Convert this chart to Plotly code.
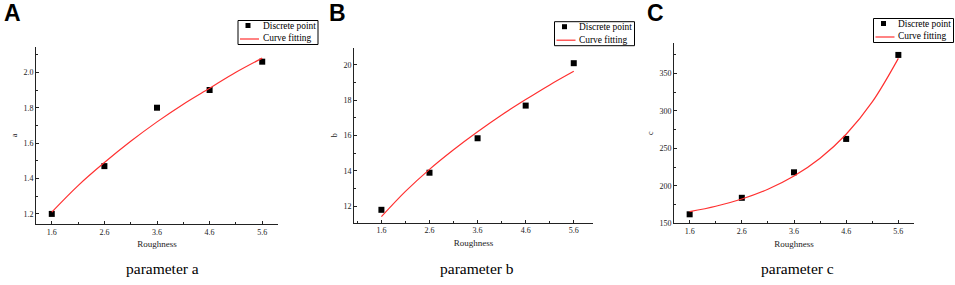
import plotly.graph_objects as go

# ---- data ----
roughness = [1.6, 2.6, 3.6, 4.6, 5.6]
param_a = [1.20, 1.47, 1.80, 1.90, 2.06]
param_b = [11.8, 13.9, 15.85, 17.7, 20.1]
param_c = [162, 184, 218, 262.5, 374.5]

fit_x = [1.6, 2.1, 2.6, 3.1, 3.6, 4.1, 4.6, 5.1, 5.6]
fit_a = [1.21, 1.36, 1.49, 1.61, 1.72, 1.82, 1.91, 2.00, 2.08]
fit_b = [11.41, 12.84, 14.09, 15.20, 16.22, 17.17, 18.04, 18.87, 19.64]
fit_c = [165.5, 172.7, 182.4, 195.4, 213.0, 236.7, 268.7, 311.8, 369.9]

x_ticks = [1.6, 2.6, 3.6, 4.6, 5.6]
x_ticktext = ["1.6", "2.6", "3.6", "4.6", "5.6"]

panel_letters = ["A", "B", "C"]
captions = ["parameter a", "parameter b", "parameter c"]
y_titles = ["a", "b", "c"]
legend_labels = ["Discrete point", "Curve fitting"]

W, H = 955, 285
SERIF = "Liberation Serif, Times New Roman, serif"
RED = "#ff3030"

def px_x(p):
    return p / W

def px_y(p):
    return 1 - p / H

panels = [
    dict(series=param_a, fit=fit_a, xdom=(36, 278), ydom=(224, 47), xr=[1.3, 5.9], yr=[1.143, 2.143],
         ytick0=1.2, ydt=0.2, yminor=0.1, ytickformat=".1f", legend=(238, 20.5), letter_x=2, cap_x=162),
    dict(series=param_b, fit=fit_b, xdom=(354, 593), ydom=(222.7, 48), xr=[1.03, 6.0], yr=[11.07, 20.96],
         ytick0=12, ydt=2, yminor=1, ytickformat="d", legend=(554.5, 21.7), letter_x=327, cap_x=477),
    dict(series=param_c, fit=fit_c, xdom=(674, 914), ydom=(223.3, 43.3), xr=[1.3, 5.9], yr=[150, 390],
         ytick0=150, ydt=50, yminor=25, ytickformat="d", legend=(873.5, 18.5), letter_x=645, cap_x=797),
]

fig = go.Figure()
annotations = []
shapes = []
layout = {}

for i, p in enumerate(panels):
    n = "" if i == 0 else str(i + 1)
    xa = "x" + n
    ya = "y" + n
    fig.add_trace(go.Scatter(
        x=roughness, y=p["series"], mode="markers", name=legend_labels[0],
        marker=dict(symbol="square", size=6, color="black"),
        xaxis=xa, yaxis=ya, cliponaxis=False, showlegend=False,
    ))
    fig.add_trace(go.Scatter(
        x=fit_x, y=p["fit"], mode="lines", name=legend_labels[1],
        line=dict(color=RED, width=1.2, shape="spline", smoothing=1.0),
        xaxis=xa, yaxis=ya, showlegend=False,
    ))
    axis_common = dict(
        showline=True, linecolor="#222", linewidth=1, showgrid=False, zeroline=False,
        ticks="inside", ticklen=3, tickcolor="#222", tickwidth=1, automargin=False,
        tickfont=dict(family=SERIF, size=8, color="#222"),
    )
    layout["xaxis" + n] = dict(
        axis_common, domain=[px_x(p["xdom"][0]), px_x(p["xdom"][1])], range=p["xr"],
        anchor=ya, tickvals=x_ticks, ticktext=x_ticktext,
        minor=dict(ticks="inside", ticklen=2, tickcolor="#222", dtick=0.5, tick0=1.6),
        title=dict(text="Roughness", font=dict(family=SERIF, size=9, color="#222"), standoff=5),
    )
    layout["yaxis" + n] = dict(
        axis_common, domain=[px_y(p["ydom"][0]), px_y(p["ydom"][1])], range=p["yr"],
        anchor=xa, tick0=p["ytick0"], dtick=p["ydt"], tickformat=p["ytickformat"],
        minor=dict(ticks="inside", ticklen=2, tickcolor="#222", dtick=p["yminor"], tick0=p["ytick0"]),
        title=dict(text=y_titles[i], font=dict(family=SERIF, size=8, color="#222"), standoff=4),
    )

    # legend box (drawn in paper space)
    L, T = p["legend"]
    shapes.append(dict(type="rect", xref="paper", yref="paper",
                       x0=px_x(L), x1=px_x(L + 80), y0=px_y(T), y1=px_y(T + 24),
                       line=dict(color="black", width=1), fillcolor="white", layer="above"))
    shapes.append(dict(type="rect", xref="paper", yref="paper",
                       x0=px_x(L + 7.5), x1=px_x(L + 12.5), y0=px_y(T + 2.5), y1=px_y(T + 7.5),
                       line=dict(width=0), fillcolor="black", layer="above"))
    shapes.append(dict(type="line", xref="paper", yref="paper",
                       x0=px_x(L + 2), x1=px_x(L + 21), y0=px_y(T + 18.5), y1=px_y(T + 18.5),
                       line=dict(color=RED, width=1.2), layer="above"))
    for k, (lbl, dy) in enumerate(zip(legend_labels, [5, 18])):
        annotations.append(dict(
            text=lbl, x=px_x(L + 23.5), y=px_y(T + dy), xref="paper", yref="paper",
            showarrow=False, xanchor="left", yanchor="middle", borderpad=0,
            font=dict(family=SERIF, size=9.4, color="black"),
        ))

    # caption
    annotations.append(dict(
        text=captions[i], x=px_x(p["cap_x"]), y=px_y(268), xref="paper", yref="paper",
        showarrow=False, font=dict(family=SERIF, size=15.5, color="black"),
        xanchor="center", yanchor="middle",
    ))
    # panel letter
    annotations.append(dict(
        text="<b>%s</b>" % panel_letters[i], x=px_x(p["letter_x"]), y=px_y(13),
        xref="paper", yref="paper", showarrow=False, xanchor="left", yanchor="middle",
        font=dict(family="Liberation Sans, Arial, sans-serif", size=23, color="black"),
    ))

fig.update_layout(
    width=W, height=H, margin=dict(l=0, r=0, t=0, b=0),
    paper_bgcolor="white", plot_bgcolor="white",
    showlegend=False, annotations=annotations, shapes=shapes, **layout,
)

fig.write_html(
    "out.html",
    config={"displayModeBar": False},
    post_script="document.body.style.margin='0';document.body.style.overflow='hidden';",
)
